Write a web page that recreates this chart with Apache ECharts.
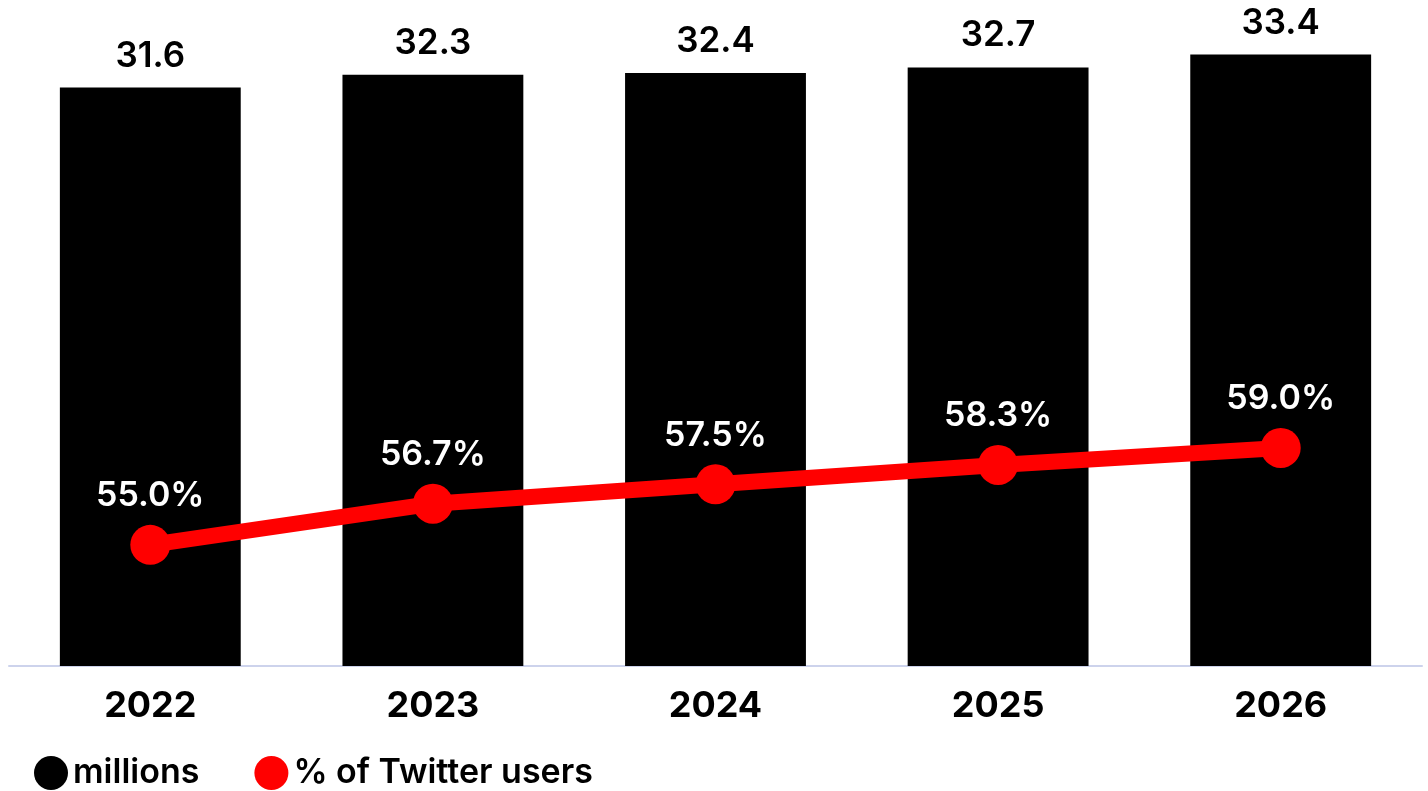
<!DOCTYPE html>
<html>
<head>
<meta charset="utf-8">
<script src="https://cdn.jsdelivr.net/npm/echarts@6/dist/echarts.min.js"></script>
<style>
  html, body { margin: 0; padding: 0; background: #fff; }
  #chart { width: 1428px; height: 791px; }
</style>
</head>
<body>
<div id="chart"></div>
<script>
const years = ['2022', '2023', '2024', '2025', '2026'];
const millions = [31.6, 32.3, 32.4, 32.7, 33.4];
const sharePct = [55.0, 56.7, 57.5, 58.3, 59.0];

const font = 'Inter, "Noto Sans", sans-serif';

const chart = echarts.init(document.getElementById('chart'));
const option = {
  animation: false,
  textStyle: { fontFamily: font },
  grid: {
    left: 9,
    right: 6,
    top: 7,
    bottom: 125
  },
  legend: {
    left: 29,
    top: 751,
    icon: 'circle',
    itemWidth: 34,
    itemHeight: 36,
    itemGap: 55,
    textStyle: { fontSize: 34, fontWeight: 600, color: '#000', fontFamily: font },
    data: ['millions', '% of Twitter users']
  },
  xAxis: {
    type: 'category',
    data: years,
    axisTick: { show: false },
    axisLine: { lineStyle: { color: '#cdd3ec', width: 2 } },
    axisLabel: { fontSize: 36, fontWeight: 700, color: '#000', margin: 22, fontFamily: font }
  },
  yAxis: [
    { type: 'value', show: false, min: 0, max: 36, splitLine: { show: false } },
    { type: 'value', show: false, min: 50, max: 77.2, splitLine: { show: false } }
  ],
  series: [
    {
      name: 'millions',
      type: 'bar',
      data: millions,
      barWidth: '64%',
      itemStyle: { color: '#000' },
      label: {
        show: true,
        position: 'top',
        distance: 14,
        fontSize: 35,
        fontWeight: 600,
        color: '#000',
        fontFamily: font,
        formatter: p => p.value.toFixed(1)
      }
    },
    {
      name: '% of Twitter users',
      type: 'line',
      yAxisIndex: 1,
      data: sharePct,
      symbol: 'circle',
      symbolSize: 40,
      lineStyle: { color: '#ff0000', width: 16 },
      itemStyle: { color: '#ff0000' },
      label: {
        show: true,
        position: 'top',
        distance: 12,
        fontSize: 34,
        fontWeight: 600,
        color: '#fff',
        fontFamily: font,
        formatter: p => p.value.toFixed(1) + '%'
      }
    }
  ]
};
chart.setOption(option);
</script>
</body>
</html>
